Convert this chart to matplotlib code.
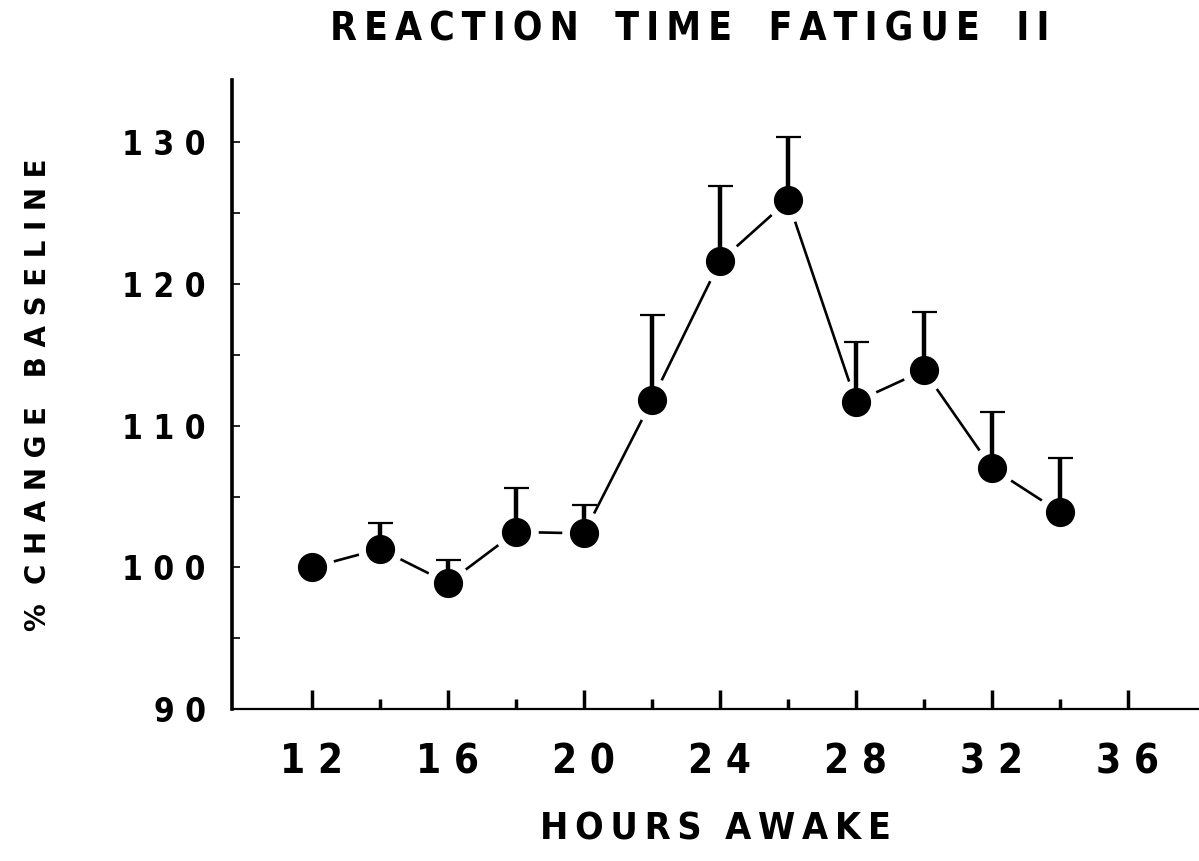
import matplotlib
matplotlib.use('Agg')
import matplotlib.pyplot as plt

hours = [12, 14, 16, 18, 20, 22, 24, 26, 28, 30, 32, 34]
pct_change = [100.0, 101.3, 98.9, 102.5, 102.4, 111.8, 121.6, 125.9, 111.7, 113.9, 107.0, 103.9]
upper_bar = [100.0, 103.1, 100.5, 105.6, 104.4, 117.8, 126.9, 130.4, 115.9, 118.0, 111.0, 107.7]

major_x = [12, 16, 20, 24, 28, 32, 36]
minor_x = [14, 18, 22, 26, 30, 34]
major_y = [90, 100, 110, 120, 130]
minor_y = [95, 105, 115, 125]


def spaced(s, gap=' '):
    return gap.join(s)


def spaced_words(s, word_gap='  '):
    # thin spaces inside words, wider gaps between them
    return word_gap.join(spaced(w, '\u2009') for w in s.split())


font = dict(family='DejaVu Sans', weight='bold', stretch='condensed')

fig = plt.figure(figsize=(11.99, 8.61), dpi=100)
ax = fig.add_axes([0.1935, 0.1765, 0.8065, 0.7305])

err = [u - v for u, v in zip(upper_bar, pct_change)]

ax.plot(hours, pct_change, color='black', lw=1.9, zorder=1)
ax.plot(hours, pct_change, 'o', color='white', ms=32, mec='none', zorder=2)
ax.errorbar(hours, pct_change, yerr=[[0] * len(err), err], fmt='none',
            ecolor='black', elinewidth=3.2, capsize=9, capthick=1.6, zorder=3)
ax.plot(hours, pct_change, 'o', color='black', ms=20, mec='black', zorder=4)

ax.set_xlim(9.65, 38.09)
ax.set_ylim(90, 134.4)

ax.spines['top'].set_visible(False)
ax.spines['right'].set_visible(False)
ax.spines['left'].set_linewidth(2.6)
ax.spines['bottom'].set_linewidth(1.6)

ax.set_xticks(major_x)
ax.set_xticks(minor_x, minor=True)
ax.set_xticklabels([spaced(str(v)) for v in major_x], fontsize=29, **font)
ax.set_yticks(major_y)
ax.set_yticks(minor_y, minor=True)
ax.set_yticklabels([spaced(str(v)) for v in major_y], fontsize=24, **font)

ax.tick_params(axis='x', which='major', direction='in', length=14, width=2.5, pad=24)
ax.tick_params(axis='x', which='minor', direction='in', length=7, width=2.5)
ax.tick_params(axis='y', which='both', direction='in', length=6, width=1.2, pad=19)

fig.text(0.575, 0.966, spaced_words('REACTION TIME FATIGUE II', '   '),
         ha='center', va='center', fontsize=28, **font)
fig.text(0.597, 0.037, spaced_words('HOURS AWAKE'),
         ha='center', va='center', fontsize=27, **font)
fig.text(0.032, 0.541, '%  ' + spaced('CHANGE') + '   ' + spaced('BASELINE'),
         ha='center', va='center', rotation=90, fontsize=20, family='DejaVu Sans', weight='bold')

fig.savefig('out.png', dpi=100)
